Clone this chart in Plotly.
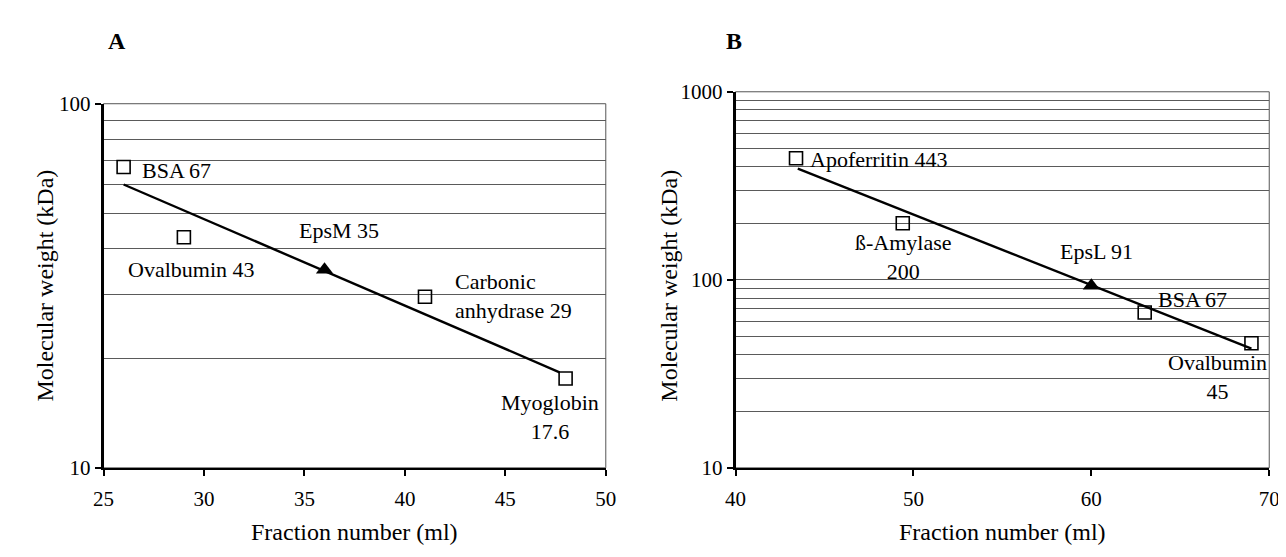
import math
import plotly.graph_objects as go

# ---------------- data ----------------
# Panel A (EpsM)
a_std_names = ["BSA 67", "Ovalbumin 43", "Carbonic<br>anhydrase 29", "Myoglobin<br>17.6"]
a_std_x = [26, 29, 41, 48]
a_std_mw = [67, 43, 29.5, 17.6]
a_unk_name = ["EpsM 35"]
a_unk_x = [36]
a_unk_mw = [35]
a_fit_x = [26, 47.7]
a_fit_mw = [60, 18.3]

# Panel B (EpsL)
b_std_names = ["Apoferritin 443", "ß-Amylase<br>200", "BSA 67", "Ovalbumin<br>45"]
b_std_x = [43.4, 49.4, 63, 69]
b_std_mw = [443, 200, 67, 46]
b_unk_name = ["EpsL 91"]
b_unk_x = [60]
b_unk_mw = [93]
b_fit_x = [43.5, 69]
b_fit_mw = [390, 43]

a_xticks = [25, 30, 35, 40, 45, 50]
b_xticks = [40, 50, 60, 70]
a_yticks = [10, 100]
b_yticks = [10, 100, 1000]
a_minor = [20, 30, 40, 50, 60, 70, 80, 90]
b_minor = [20, 30, 40, 50, 60, 70, 80, 90, 200, 300, 400, 500, 600, 700, 800, 900]

# ---------------- styling ----------------
FONT = "Liberation Serif"
GRID = "#5a5a5a"
W, H = 1286, 557

fig = go.Figure()

def add_panel(xa, ya, fit_x, fit_y, sx, sy, ux, uy):
    fig.add_trace(go.Scatter(x=fit_x, y=fit_y, mode="lines", xaxis=xa, yaxis=ya,
                             line=dict(color="black", width=2.4), showlegend=False, hoverinfo="skip"))
    fig.add_trace(go.Scatter(x=sx, y=sy, mode="markers", xaxis=xa, yaxis=ya,
                             marker=dict(symbol="square-open", size=13, color="black",
                                         line=dict(width=1.6, color="black")),
                             showlegend=False))
    fig.add_trace(go.Scatter(x=ux, y=uy, mode="markers", xaxis=xa, yaxis=ya,
                             marker=dict(symbol="triangle-up", size=15, color="black"),
                             showlegend=False))

add_panel("x", "y", a_fit_x, a_fit_mw, a_std_x, a_std_mw, a_unk_x, a_unk_mw)
add_panel("x2", "y2", b_fit_x, b_fit_mw, b_std_x, b_std_mw, b_unk_x, b_unk_mw)

def px_x(p):
    return p / W

def px_y(p):
    return 1 - p / H

xdomA = [px_x(86), px_x(597)]
xdomB = [px_x(729), px_x(1272)]
ydomA = [px_y(468), px_y(87.5)]
ydomB = [px_y(468), px_y(75)]

common_x = dict(showline=True, linecolor="black", linewidth=2, ticks="outside", ticklen=6,
                tickcolor="black", tickwidth=1.5, showgrid=False, zeroline=False,
                ticklabelstandoff=5,
                tickfont=dict(family=FONT, size=21, color="black"), tickmode="array")
common_y = dict(type="log", showline=True, linecolor="black", linewidth=2.5, ticks="outside",
                ticklen=6, tickcolor="black", tickwidth=1.5, showgrid=True, gridcolor=GRID,
                gridwidth=1, zeroline=False, tickfont=dict(family=FONT, size=21, color="black"),
                tickmode="array")

fig.update_layout(
    width=W, height=H, margin=dict(l=0, r=0, t=0, b=0),
    paper_bgcolor="white", plot_bgcolor="white",
    xaxis=dict(domain=xdomA, range=[25, 50], tickvals=a_xticks, anchor="y", **common_x),
    yaxis=dict(domain=ydomA, range=[1, 2], tickvals=a_yticks, anchor="x",
               minor=dict(tickmode="array", tickvals=a_minor, showgrid=True, gridcolor=GRID,
                          gridwidth=1, ticks=""), **common_y),
    xaxis2=dict(domain=xdomB, range=[40, 70], tickvals=b_xticks, anchor="y2", **common_x),
    yaxis2=dict(domain=ydomB, range=[1, 3], tickvals=b_yticks, anchor="x2",
                minor=dict(tickmode="array", tickvals=b_minor, showgrid=True, gridcolor=GRID,
                           gridwidth=1, ticks=""), **common_y),
    font=dict(family=FONT, color="black"),
)

# plot-area borders (thin gray, Excel style)
for xr, yr in [("x domain", "y domain"), ("x2 domain", "y2 domain")]:
    fig.add_shape(type="rect", xref=xr, yref=yr, x0=0, x1=1, y0=0, y1=1,
                  line=dict(color="#555555", width=1), layer="below")

LBL = dict(family=FONT, size=22, color="black")

def label(xa, ya, x, y, text, xanchor, xshift, yshift, align="center"):
    fig.add_annotation(x=x, y=y, xref=xa, yref=ya, text=text, showarrow=False,
                       xanchor=xanchor, yanchor="middle", xshift=xshift, yshift=yshift,
                       align=align, font=LBL)

# Panel A labels
label("x", "y", a_std_x[0], math.log10(a_std_mw[0]), a_std_names[0], "left", 16, -3)
label("x", "y", a_std_x[1], math.log10(a_std_mw[1]), a_std_names[1], "center", 8, -32)
label("x", "y", a_unk_x[0], math.log10(a_unk_mw[0]), a_unk_name[0], "center", 14, 39)
label("x", "y", a_std_x[2], math.log10(a_std_mw[2]), a_std_names[2], "left", 28, 1, "left")
label("x", "y", a_std_x[3], math.log10(a_std_mw[3]), a_std_names[3], "center", -16, -39)

# Panel B labels
label("x2", "y2", b_std_x[0], math.log10(b_std_mw[0]), b_std_names[0], "left", 12, -1)
label("x2", "y2", b_std_x[1], math.log10(b_std_mw[1]), b_std_names[1], "center", 1, -34)
label("x2", "y2", b_unk_x[0], math.log10(b_unk_mw[0]), b_unk_name[0], "center", 5, 34)
label("x2", "y2", b_std_x[2], math.log10(b_std_mw[2]), b_std_names[2], "left", 11, 13)
label("x2", "y2", b_std_x[3], math.log10(b_std_mw[3]), b_std_names[3], "center", -34, -34)

# axis titles and panel letters
TITLE = dict(family=FONT, size=24, color="black")
for cx in [26, 661]:
    fig.add_annotation(x=px_x(cx), y=px_y(278), xref="paper", yref="paper",
                       text="Molecular weight (kDa)", textangle=-90, showarrow=False,
                       xanchor="center", yanchor="middle", font=TITLE)
for cx in [(86 + 597) / 2, (729 + 1272) / 2]:
    fig.add_annotation(x=px_x(cx), y=px_y(535), xref="paper", yref="paper",
                       text="Fraction number (ml)", showarrow=False,
                       xanchor="center", yanchor="middle", font=TITLE)
for cx, t in [(100, "A"), (727, "B")]:
    fig.add_annotation(x=px_x(cx), y=px_y(22), xref="paper", yref="paper",
                       text="<b>%s</b>" % t, showarrow=False,
                       xanchor="center", yanchor="middle",
                       font=dict(family=FONT, size=24, color="black"))

fig.write_html("out.html")
